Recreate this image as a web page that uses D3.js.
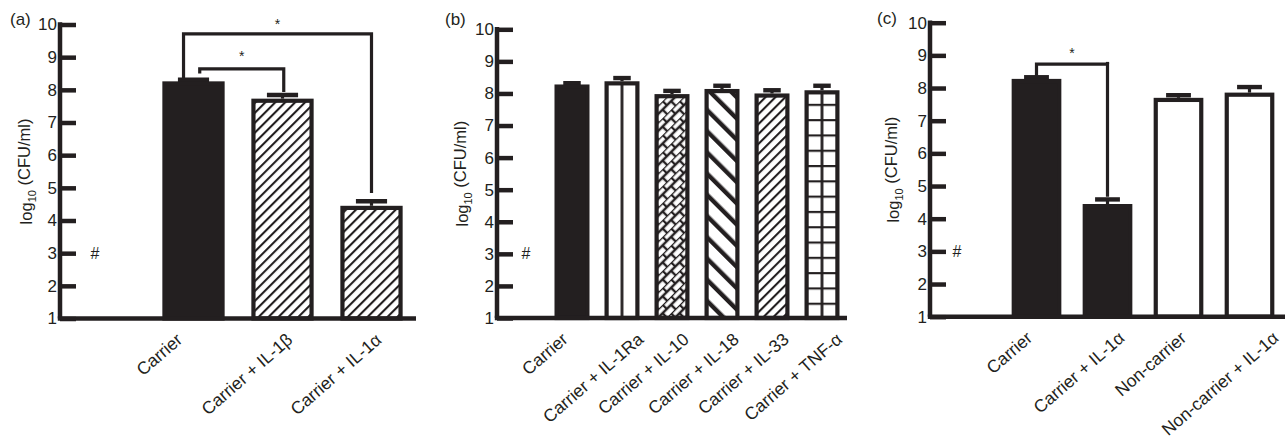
<!DOCTYPE html>
<html lang="en">
<head>
  <meta charset="UTF-8">
  <title>CFU bar panels</title>
  <script src="https://d3js.org/d3.v7.min.js"></script>
  <style>
    body { margin: 0; background: #fff; }
    svg { display: block; font-family: "Liberation Sans", Arial, Helvetica, sans-serif; }
    .axis text { font-size: 17px; fill: #231f20; }
  </style>
</head>
<body>
  <div id="chart"></div>
  <script>
    // Panel (a)
    const catsA = ['', 'Carrier', 'Carrier + IL-1β', 'Carrier + IL-1α'];
    const valsA = [null, 8.26, 7.73, 4.45];
    const errA  = [null, 0.05, 0.11, 0.14];

    // Panel (b)
    const catsB = ['', 'Carrier', 'Carrier + IL-1Ra', 'Carrier + IL-10', 'Carrier + IL-18', 'Carrier + IL-33', 'Carrier + TNF-α'];
    const valsB = [null, 8.28, 8.38, 7.98, 8.14, 8.0, 8.1];
    const errB  = [null, 0.04, 0.1, 0.1, 0.1, 0.1, 0.14];

    // Panel (c)
    const catsC = ['', 'Carrier', 'Carrier + IL-1α', 'Non-carrier', 'Non-carrier + IL-1α'];
    const valsC = [null, 8.28, 4.45, 7.7, 7.86];
    const errC  = [null, 0.05, 0.14, 0.08, 0.17];

    const yTicks = [1, 2, 3, 4, 5, 6, 7, 8, 9, 10];

    // significance brackets: category indices, bracket level, foot levels, star level
    const sigA = [
      { from: 1, to: 3, top: 9.71, footL: 8.32, footR: 4.84, star: 10.1, offL: -0.16, offR: 0 },
      { from: 1, to: 2, top: 8.64, footL: 8.5, footR: 7.93, star: 9.13, offL: 0.1, offR: 0.02 }
    ];
    const sigC = [
      { from: 1, to: 2, top: 8.73, footL: 8.34, footR: 4.67, star: 9.16, offL: 0, offR: 0, tip: 8.8 }
    ];

    const fillsA = ['none', 'solid', 'hatch', 'hatch'];
    const fillsB = ['none', 'solid', 'vline', 'brick', 'wide', 'hatch', 'grid'];
    const fillsC = ['none', 'solid', 'solid', 'white', 'white'];

    const ink = '#231f20';
    const width = 1287, height = 446;

    const svg = d3.select('#chart').append('svg')
      .attr('width', width).attr('height', height);
    const defs = svg.append('defs');

    // shared hatch patterns
    defs.append('pattern').attr('id', 'hatch')
      .attr('patternUnits', 'userSpaceOnUse').attr('width', 7).attr('height', 7)
      .attr('patternTransform', 'rotate(45)')
      .call(p => {
        p.append('rect').attr('width', 7).attr('height', 7).attr('fill', '#fff');
        p.append('line').attr('x1', 1).attr('x2', 1).attr('y1', 0).attr('y2', 7)
          .attr('stroke', ink).attr('stroke-width', 2.2);
      });
    defs.append('pattern').attr('id', 'wide')
      .attr('patternUnits', 'userSpaceOnUse').attr('width', 15).attr('height', 15)
      .attr('patternTransform', 'rotate(-45)')
      .call(p => {
        p.append('rect').attr('width', 15).attr('height', 15).attr('fill', '#fff');
        p.append('line').attr('x1', 2).attr('x2', 2).attr('y1', 0).attr('y2', 15)
          .attr('stroke', ink).attr('stroke-width', 4.8);
      });
    defs.append('pattern').attr('id', 'brick')
      .attr('patternUnits', 'userSpaceOnUse').attr('width', 12).attr('height', 12)
      .attr('patternTransform', 'rotate(-45)')
      .call(p => {
        p.append('rect').attr('width', 12).attr('height', 12).attr('fill', '#fff');
        p.append('path')
          .attr('d', 'M0,0H12M0,6H12M1,0V6M7,6V12')
          .attr('stroke', ink).attr('stroke-width', 2.4).attr('fill', 'none');
      });

    const panels = [
      { id: 'a', cats: catsA, vals: valsA, errs: errA, fills: fillsA, sig: sigA,
        left: 60, right: 416, top: 24.5, bottom: 318.5, labelX: 26, tagX: 10, tagY: 25, hashDx: 35, lblK: -29 },
      { id: 'b', cats: catsB, vals: valsB, errs: errB, fills: fillsB, sig: [],
        left: 497, right: 847, top: 29.3, bottom: 318, labelX: 462, tagX: 445, tagY: 25, hashDx: 29, lblK: -22 },
      { id: 'c', cats: catsC, vals: valsC, errs: errC, fills: fillsC, sig: sigC,
        left: 930, right: 1285, top: 22.7, bottom: 316.7, labelX: 893, tagX: 877, tagY: 24, hashDx: 27, lblK: -22 }
    ];

    panels.forEach(pn => {
      const g = svg.append('g');
      const x = d3.scaleBand().domain(d3.range(pn.cats.length))
        .range([pn.left, pn.right]).paddingInner(0.3).paddingOuter(0.15);
      const y = d3.scaleLinear().domain([1, 10]).range([pn.bottom, pn.top]);
      const sw = 4.2;
      const bw = x.bandwidth();

      // per-bar patterns that need to line up with the bar
      pn.fills.forEach((f, i) => {
        if (f !== 'vline' && f !== 'grid') return;
        const p = defs.append('pattern').attr('id', `p-${pn.id}-${i}`)
          .attr('patternUnits', 'userSpaceOnUse')
          .attr('x', x(i)).attr('y', y(1))
          .attr('width', bw).attr('height', 15.3);
        p.append('rect').attr('width', bw).attr('height', 15.3).attr('fill', '#fff');
        p.append('line').attr('x1', bw / 2).attr('x2', bw / 2).attr('y1', 0).attr('y2', 15.3)
          .attr('stroke', ink).attr('stroke-width', 2.8);
        if (f === 'grid') {
          p.append('line').attr('x1', 0).attr('x2', bw).attr('y1', 0).attr('y2', 0)
            .attr('stroke', ink).attr('stroke-width', 4.4);
        }
      });

      const fillOf = (f, i) => f === 'solid' ? ink : f === 'white' ? '#fff'
        : (f === 'vline' || f === 'grid') ? `url(#p-${pn.id}-${i})` : `url(#${f})`;

      const data = pn.vals.map((v, i) => ({ i, v, e: pn.errs[i], f: pn.fills[i] }))
        .filter(d => d.v != null);

      // error bars (upper only)
      g.selectAll('.stem').data(data).join('line')
        .attr('x1', d => x(d.i) + bw / 2).attr('x2', d => x(d.i) + bw / 2)
        .attr('y1', d => y(d.v)).attr('y2', d => y(d.v + d.e))
        .attr('stroke', ink).attr('stroke-width', 3.2);
      g.selectAll('.cap').data(data).join('line')
        .attr('x1', d => x(d.i) + bw * 0.25).attr('x2', d => x(d.i) + bw * 0.75)
        .attr('y1', d => y(d.v + d.e)).attr('y2', d => y(d.v + d.e))
        .attr('stroke', ink).attr('stroke-width', 4.4);

      // bars
      g.selectAll('.bar').data(data).join('rect')
        .attr('x', d => x(d.i) + sw / 2)
        .attr('width', bw - sw)
        .attr('y', d => y(d.v) + sw / 2)
        .attr('height', d => y(1) - y(d.v) - sw / 2)
        .attr('fill', d => fillOf(d.f, d.i))
        .attr('stroke', ink).attr('stroke-width', sw);

      // y axis, ticks pointing inward
      g.append('g').attr('class', 'axis')
        .attr('transform', `translate(${pn.left},0)`)
        .call(d3.axisLeft(y).tickValues(yTicks).tickSize(-16).tickSizeOuter(0).tickPadding(3))
        .call(a => a.select('.domain').attr('d', `M0,${pn.top - 2.2}V${pn.bottom}`))
        .call(a => a.selectAll('path, line').attr('stroke', ink).attr('stroke-width', 4.5));

      // x axis
      const xa = g.append('g').attr('class', 'axis')
        .attr('transform', `translate(0,${pn.bottom})`)
        .call(d3.axisBottom(x).tickFormat(i => pn.cats[i]).tickSize(0).tickSizeOuter(0))
        .call(a => a.select('.domain').attr('d', `M${pn.left - 2.2},0H${pn.right}`)
          .attr('stroke', ink).attr('stroke-width', 4.5));
      // rotated labels: longer labels sit further right, as in the original layout
      xa.selectAll('.tick text')
        .attr('x', 0).attr('y', 0).attr('dy', 0)
        .style('font-size', '17.5px')
        .style('text-anchor', 'end')
        .attr('transform', function () {
          const L = this.getComputedTextLength();
          return `translate(${pn.lblK + 0.3536 * L},23) rotate(-41)`;
        });

      // '#' marker in the empty slot
      g.append('text')
        .attr('x', pn.left + pn.hashDx).attr('y', y(3)).attr('dy', '0.35em')
        .attr('text-anchor', 'middle').attr('font-size', 16).attr('fill', ink)
        .text('#');

      // significance brackets
      pn.sig.forEach(s => {
        const xl = x(s.from) + bw / 2 + s.offL * bw;
        const xr = x(s.to) + bw / 2 + s.offR * bw;
        g.append('path')
          .attr('d', `M${xl},${y(s.footL)}V${y(s.top)}H${xr}V${y(s.footR)}`)
          .attr('fill', 'none').attr('stroke', ink).attr('stroke-width', 3.2);
        if (s.tip) {
          g.append('path').attr('d', `M${xr},${y(s.top)}V${y(s.tip)}`)
            .attr('stroke', ink).attr('stroke-width', 3.2);
        }
        g.append('text')
          .attr('x', (xl + xr) / 2).attr('y', y(s.star)).attr('dy', '0.57em')
          .attr('text-anchor', 'middle').attr('font-size', 14).attr('fill', ink)
          .text('*');
      });

      // y label
      const yl = g.append('text')
        .attr('transform', `translate(${pn.labelX},${(pn.top + pn.bottom) / 2}) rotate(-90)`)
        .attr('text-anchor', 'middle').attr('dy', '0.35em')
        .attr('font-size', 16.5).attr('fill', ink);
      yl.append('tspan').text('log');
      yl.append('tspan').attr('font-size', 11).attr('dy', '0.35em').text('10');
      yl.append('tspan').attr('dy', '-0.35em').text(' (CFU/ml)');

      // panel tag
      g.append('text')
        .attr('x', pn.tagX).attr('y', pn.tagY)
        .attr('font-size', 17).attr('fill', ink)
        .text(`(${pn.id})`);
    });
  </script>
</body>
</html>
